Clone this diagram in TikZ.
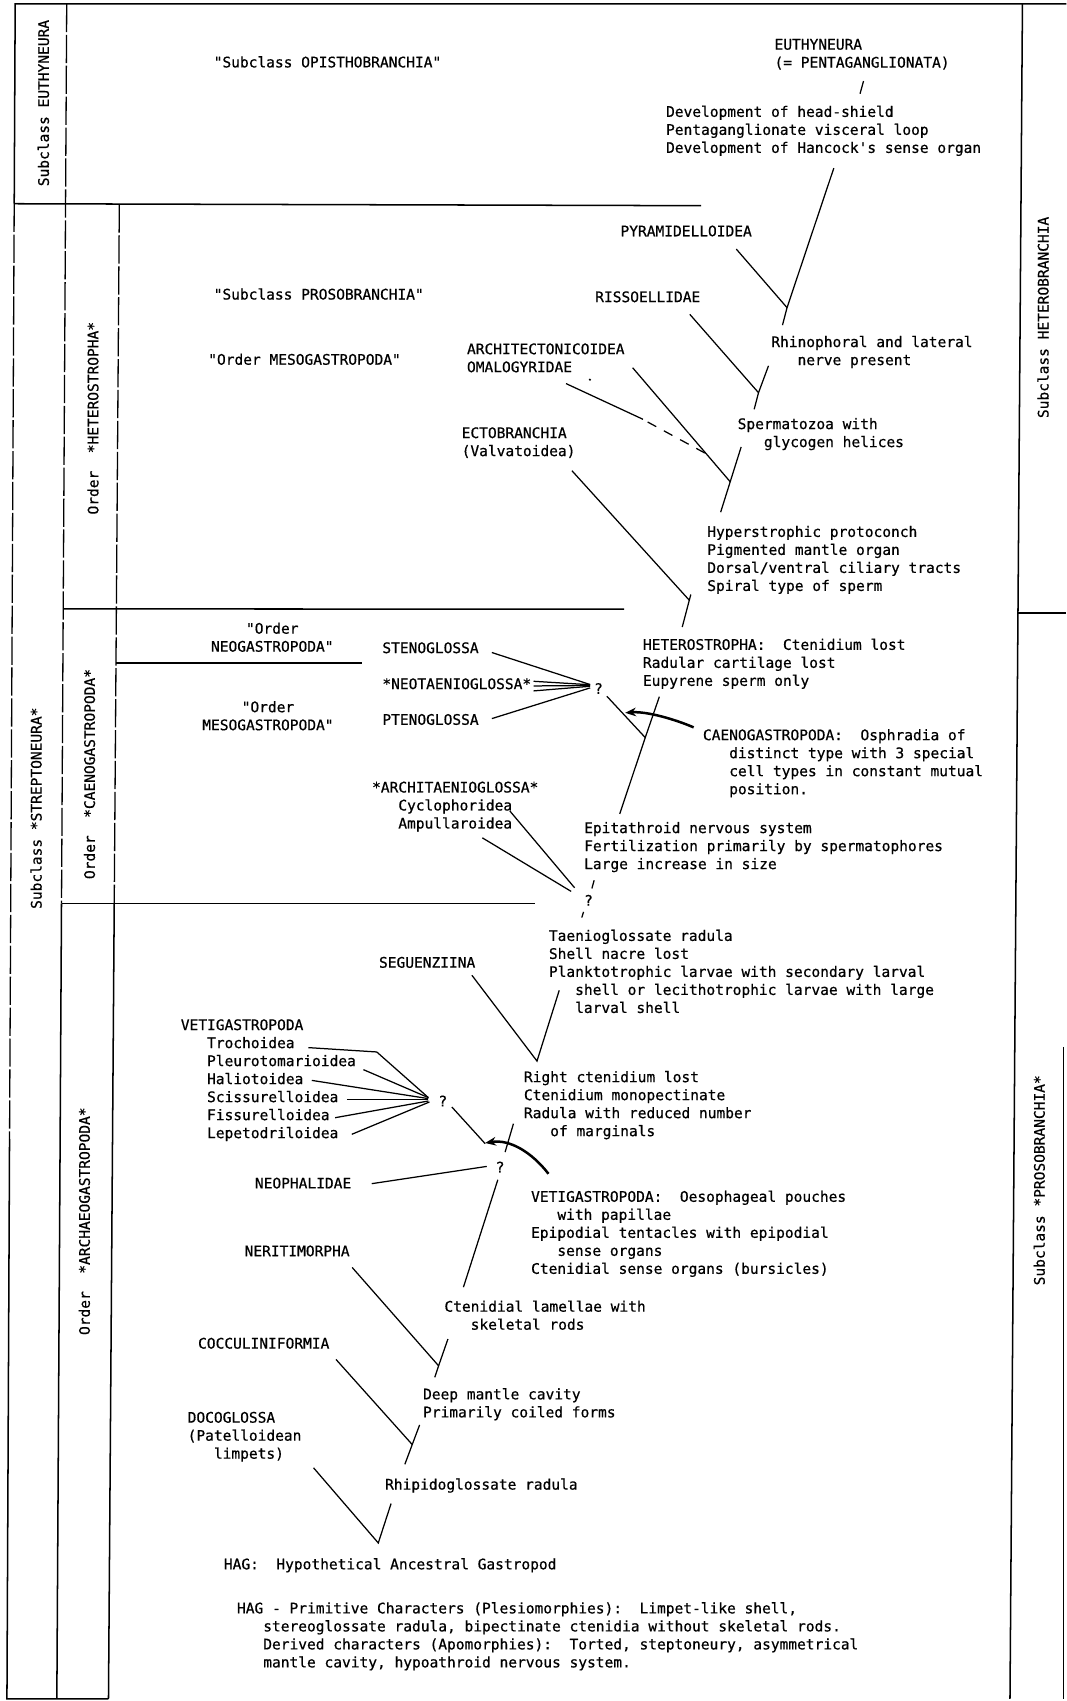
\documentclass[tikz,border=0pt]{standalone}
\usepackage{fontspec}
\setmonofont[FakeBold=0.6]{DejaVu Sans Mono}
\usetikzlibrary{arrows.meta}
\newcommand\sst{\rule{0pt}{10.5pt}}
\newcommand\ii{\phantom{xxx}}
\begin{document}
\begin{tikzpicture}[x=1pt,y=-1pt,
  frame/.style={line width=1.4pt},
  faint/.style={line width=1.2pt, dash pattern=on 26pt off 2.5pt},
  br/.style={line width=1.15pt},
  txt/.style={font=\ttfamily\fontsize{13.4}{16.6}\selectfont, inner sep=0pt, outer sep=0pt, anchor=north west, align=left},
  ctxt/.style={txt, anchor=north, align=center},
  qm/.style={font=\ttfamily\fontsize{13.4}{16.6}\selectfont, inner sep=0pt},
  vtxt/.style={font=\ttfamily\fontsize{13.4}{16.6}\selectfont, inner sep=0pt, rotate=90},
  bigarrow/.style={line width=2.3pt, -{Stealth[length=10pt,width=8pt]}}
]
\useasboundingbox (0,0) rectangle (983,1568);
\fill[white] (0,0) rectangle (983,1568);

% ---------- frame ----------
\coordinate (TL) at (14,3.6);
\coordinate (TR) at (983,3.6);
\coordinate (L1a) at (13.1,187.8);
\coordinate (L1b) at (8.8,1050);
\coordinate (BL) at (6.4,1566);
\coordinate (C2t) at (61.5,3.6);
\coordinate (C2m) at (56.7,833);
\coordinate (C2b) at (52.4,1566);
\coordinate (C3t) at (110,188.5);
\coordinate (C3m) at (105.3,833);
\coordinate (C3b) at (100,1566);
\coordinate (Rt) at (942.5,3.6);
\coordinate (Rb) at (931,1566);
\draw[frame] (TR) -- (TL) -- (L1a);
\draw[faint] (L1a) -- (L1b);
\draw[frame] (L1b) -- (BL) -- (C3b);
\draw[faint] (C2t) -- (C2m);
\draw[frame] (C2m) -- (C2b);
\draw[faint] (C3t) -- (C3m);
\draw[frame] (C3m) -- (C3b);
\coordinate (H1a) at (L1a); \coordinate (H1b) at (646.4,189.6);
\draw[frame] (H1a) -- (H1b);
\coordinate (H2a) at (58.3,561.3); \coordinate (H2b) at (575.4,561.5);
\draw[frame] (H2a) -- (H2b);
\coordinate (H3a) at (106.9,611); \coordinate (H3b) at (334,611);
\draw[frame] (H3a) -- (H3b);
\coordinate (H4a) at (C2m); \coordinate (H4b) at (493,833);
\draw[frame] (H4a) -- (H4b);
\draw[frame] (Rt) -- (Rb);
\coordinate (H5a) at (938,565); \coordinate (H5b) at (983,565);
\draw[frame] (H5a) -- (H5b);
\coordinate (REa) at (980.5,965); \coordinate (REb) at (980.5,1566);
\draw[frame] (REa) -- (REb);

% ---------- rotated labels ----------
\node[vtxt] (vEu) at (40,95) {Subclass EUTHYNEURA};
\node[vtxt] (vStr) at (33.3,745) {Subclass *STREPTONEURA*};
\node[vtxt] (vHet) at (85.7,385.5) {Order~~*HETEROSTROPHA*};
\node[vtxt] (vCae) at (82.5,713.5) {Order~~*CAENOGASTROPODA*};
\node[vtxt] (vArc) at (77.8,1125.7) {Order~~*ARCHAEOGASTROPODA*};
\node[vtxt] (vHb) at (961.5,292.6) {Subclass HETEROBRANCHIA};
\node[vtxt] (vPr) at (958,1088) {Subclass *PROSOBRANCHIA*};

% ---------- texts ----------
\node[txt] (opis) at (197,51.6) {\sst "Subclass OPISTHOBRANCHIA"};
\node[txt] (euth) at (714,35.2) {\sst EUTHYNEURA\\(= PENTAGANGLIONATA)};
\node[txt] (dev) at (614,97.2) {\sst Development of head-shield\\Pentaganglionate visceral loop\\Development of Hancock's sense organ};
\node[txt] (pyr) at (572,207.3) {\sst PYRAMIDELLOIDEA};
\node[txt] (riss) at (548.7,268) {\sst RISSOELLIDAE};
\node[txt] (rhin) at (711,309.4) {\sst Rhinophoral and lateral\\\ii nerve present};
\node[txt] (pros) at (197,265.6) {\sst "Subclass PROSOBRANCHIA"};
\node[txt] (meso1) at (192,325.7) {\sst "Order MESOGASTROPODA"};
\node[txt] (arch) at (430.5,316) {\sst ARCHITECTONICOIDEA\\OMALOGYRIDAE};
\node[txt] (sperm) at (680,385) {\sst Spermatozoa with\\\ii glycogen helices};
\node[txt] (ecto) at (425.6,393.3) {\sst ECTOBRANCHIA\\(Valvatoidea)};
\node[txt] (hyper) at (652,484.4) {\sst Hyperstrophic protoconch\\Pigmented mantle organ\\Dorsal/ventral ciliary tracts\\Spiral type of sperm};
\node[ctxt] (neo) at (251,573.6) {\sst "Order\\NEOGASTROPODA"};
\node[txt] (steno) at (352.5,591.5) {\sst STENOGLOSSA};
\node[txt] (neot) at (352.5,624.7) {\sst *NEOTAENIOGLOSSA*};
\node[txt] (pteno) at (352.5,657.6) {\sst PTENOGLOSSA};
\node[txt] (hetero) at (592.7,588.5) {\sst HETEROSTROPHA:~~Ctenidium lost\\Radular cartilage lost\\Eupyrene sperm only};
\node[qm] (q1) at (551.7,634.7) {?};
\node[ctxt] (meso2) at (247,646) {\sst "Order\\MESOGASTROPODA"};
\node[txt] (caeno) at (648,671.8) {\sst CAENOGASTROPODA:~~Osphradia of\\\ii distinct type with 3 special\\\ii cell types in constant mutual\\\ii position.};
\node[txt] (archt) at (343,720) {\sst *ARCHITAENIOGLOSSA*\\\ii Cyclophoridea\\\ii Ampullaroidea};
\node[txt] (epit) at (538.5,757.4) {\sst Epitathroid nervous system\\Fertilization primarily by spermatophores\\Large increase in size};
\node[qm] (q2) at (542.5,829.9) {?};
\node[txt] (taen) at (506,856.8) {\sst Taenioglossate radula\\Shell nacre lost\\Planktotrophic larvae with secondary larval\\\ii shell or lecithotrophic larvae with large\\\ii larval shell};
\node[txt] (segu) at (349.4,881.5) {\sst SEGUENZIINA};
\node[txt] (vetl) at (166.7,939) {\sst VETIGASTROPODA\\\ii Trochoidea\\\ii Pleurotomarioidea\\\ii Haliotoidea\\\ii Scissurelloidea\\\ii Fissurelloidea\\\ii Lepetodriloidea};
\node[txt] (right) at (483,987) {\sst Right ctenidium lost\\Ctenidium monopectinate\\Radula with reduced number\\\ii of marginals};
\node[qm] (q3) at (408.2,1014.9) {?};
\node[qm] (q4) at (461,1075.8) {?};
\node[txt] (neoph) at (235,1085) {\sst NEOPHALIDAE};
\node[txt] (vetc) at (489.6,1097.3) {\sst VETIGASTROPODA:~~Oesophageal pouches\\\ii with papillae\\Epipodial tentacles with epipodial\\\ii sense organs\\Ctenidial sense organs (bursicles)};
\node[txt] (nerit) at (225.5,1147.5) {\sst NERITIMORPHA};
\node[txt] (lam) at (409.7,1198.6) {\sst Ctenidial lamellae with\\\ii skeletal rods};
\node[txt] (cocc) at (182.6,1232.6) {\sst COCCULINIFORMIA};
\node[txt] (deep) at (390,1279.4) {\sst Deep mantle cavity\\Primarily coiled forms};
\node[txt] (doco) at (173,1300.9) {\sst DOCOGLOSSA\\(Patelloidean\\\ii limpets)};
\node[txt] (rhip) at (355,1362.6) {\sst Rhipidoglossate radula};
\node[txt] (hag) at (206.4,1436.1) {\sst HAG:~~Hypothetical Ancestral Gastropod};
\node[txt] (hagc) at (218.5,1476.7) {\sst HAG - Primitive Characters (Plesiomorphies):~~Limpet-like shell,\\\ii stereoglossate radula, bipectinate ctenidia without skeletal rods.\\\ii Derived characters (Apomorphies):~~Torted, steptoneury, asymmetrical\\\ii mantle cavity, hypoathroid nervous system.};

% ---------- connectors ----------
% Euthyneura
\coordinate (t1a) at (796,74.7); \coordinate (t1b) at (792.8,86.4);
\draw[br] (t1a) -- (t1b);
\coordinate (m1) at (768.6,155); \coordinate (j1) at (725.5,283.6); \coordinate (m1e) at (721.3,299.7);
\coordinate (pyrs) at (678.7,229.6);
\draw[br] (m1) -- (j1) -- (m1e);
\draw[br] (pyrs) -- (j1);
% Rissoellidae
\coordinate (m2) at (708.4,337.2); \coordinate (j2) at (699.2,362); \coordinate (m2e) at (695.2,377.3);
\coordinate (rissl) at (635.9,289.8);
\draw[br] (m2) -- (j2) -- (m2e);
\draw[br] (rissl) -- (j2);
% Architectonicoidea / Omalogyridae
\coordinate (m3) at (683.2,412); \coordinate (j3) at (673.1,444.1); \coordinate (m3e) at (664.3,472.1);
\coordinate (archl) at (583.2,339);
\coordinate (omas) at (521.8,353.6); \coordinate (omam) at (592.7,386.5);
\coordinate (omad1) at (597,389); \coordinate (omad2) at (651,418.3);
\draw[br] (m3) -- (j3) -- (m3e);
\draw[br] (archl) -- (j3);
\draw[br] (omas) -- (omam);
\draw[br, dash pattern=on 9pt off 8pt] (omad1) -- (omad2);
\fill (543.8,350) circle (1.1);
% Ectobranchia
\coordinate (m4) at (636.8,548); \coordinate (j4) at (635.4,553.3); \coordinate (m4e) at (628.9,578);
\coordinate (ectl) at (527.2,433.9);
\draw[br] (m4) -- (j4) -- (m4e);
\draw[br] (ectl) -- (j4);
% Caenogastropoda fan
\coordinate (stl) at (453.4,601.5); \coordinate (q1in) at (544,631);
\coordinate (ntl1) at (491.8,628); \coordinate (ntl2) at (491.8,632.3); \coordinate (ntl3) at (491.8,636.9);
\coordinate (ptl) at (453.4,662.4); \coordinate (q1inb) at (544,634.1);
\draw[br] (stl) -- (q1in);
\draw[br] (ntl1) -- (544,631.2);
\draw[br] (ntl2) -- (544,631.9);
\draw[br] (ntl3) -- (544,632.6);
\draw[br] (ptl) -- (q1inb);
\coordinate (q1out) at (559.4,641.8); \coordinate (j5) at (594.8,679.9);
\draw[br] (q1out) -- (j5);
\coordinate (m5) at (607.8,642.2); \coordinate (m5e) at (571.3,750.2);
\draw[br] (m5) -- (j5) -- (m5e);
\coordinate (caa) at (639.4,670.5); \coordinate (cab) at (576.3,657.1);
\draw[bigarrow] (caa) .. controls (622,663) and (596,655.5) .. (cab);
% Architaenioglossa
\coordinate (cyl) at (470,747.6); \coordinate (cye) at (529.7,818.4);
\coordinate (aml) at (444.6,772.3); \coordinate (ame) at (526.5,821.7);
\draw[br] (cyl) -- (cye);
\draw[br] (aml) -- (ame);
\coordinate (tk1a) at (547.7,811.4); \coordinate (tk1b) at (545.6,819);
\coordinate (tk2a) at (537.9,840.6); \coordinate (tk2b) at (536.3,845.8);
\draw[br] (tk1a) -- (tk1b);
\draw[br] (tk2a) -- (tk2b);
% Seguenziina
\coordinate (m6) at (515.5,912.9); \coordinate (j6) at (495,978.1);
\coordinate (segl) at (435,899);
\draw[br] (m6) -- (j6) -- (segl);
% Vetigastropoda fan
\coordinate (tro1) at (284.3,965.7); \coordinate (tro2) at (347.3,969.7);
\draw[br] (tro1) -- (tro2) -- (394.9,1011.8);
\coordinate (ple) at (335,986);   \draw[br] (ple) -- (394.9,1011.8);
\coordinate (hal) at (287.4,995.9); \draw[br] (hal) -- (394.9,1012.7);
\coordinate (sci) at (319.7,1013.7); \draw[br] (sci) -- (394.9,1013.7);
\coordinate (fis) at (308.9,1030.3); \draw[br] (fis) -- (394.9,1014.9);
\coordinate (lep) at (324.3,1045.6); \draw[br] (lep) -- (395.9,1015.8);
\coordinate (q3out) at (416.5,1020.4); \coordinate (q3end) at (447.2,1054.2);
\draw[br] (q3out) -- (q3end);
\coordinate (m7) at (473.3,1035.8); \coordinate (m7e) at (465.6,1062);
\draw[br] (m7) -- (m7e);
\coordinate (vaa) at (505.6,1082); \coordinate (vab) at (447.2,1053.6);
\draw[bigarrow] (vaa) .. controls (490,1062) and (470,1050) .. (vab);
% Neophalidae
\coordinate (nphl) at (342.7,1091.1); \coordinate (nphe) at (448.7,1075.2);
\draw[br] (nphl) -- (nphe);
\coordinate (m8) at (458.9,1087.5); \coordinate (m8e) at (427.2,1186.5);
\draw[br] (m8) -- (m8e);
% Neritimorpha
\coordinate (nerl) at (324.6,1168.3); \coordinate (j7) at (404.3,1259);
\coordinate (m9) at (412.9,1234.3); \coordinate (m9e) at (400.8,1269.6);
\draw[br] (nerl) -- (j7);
\draw[br] (m9) -- (j7) -- (m9e);
% Cocculiniformia
\coordinate (cocl) at (309.7,1253.1); \coordinate (j8) at (380,1331.6);
\coordinate (m10) at (386.8,1313.5); \coordinate (m10e) at (373.2,1349.8);
\draw[br] (cocl) -- (j8);
\draw[br] (m10) -- (j8) -- (m10e);
% Docoglossa
\coordinate (docl) at (289,1353); \coordinate (j9) at (348.7,1422.3);
\coordinate (m11) at (360.5,1386);
\draw[br] (docl) -- (j9) -- (m11);
\end{tikzpicture}
\end{document}
